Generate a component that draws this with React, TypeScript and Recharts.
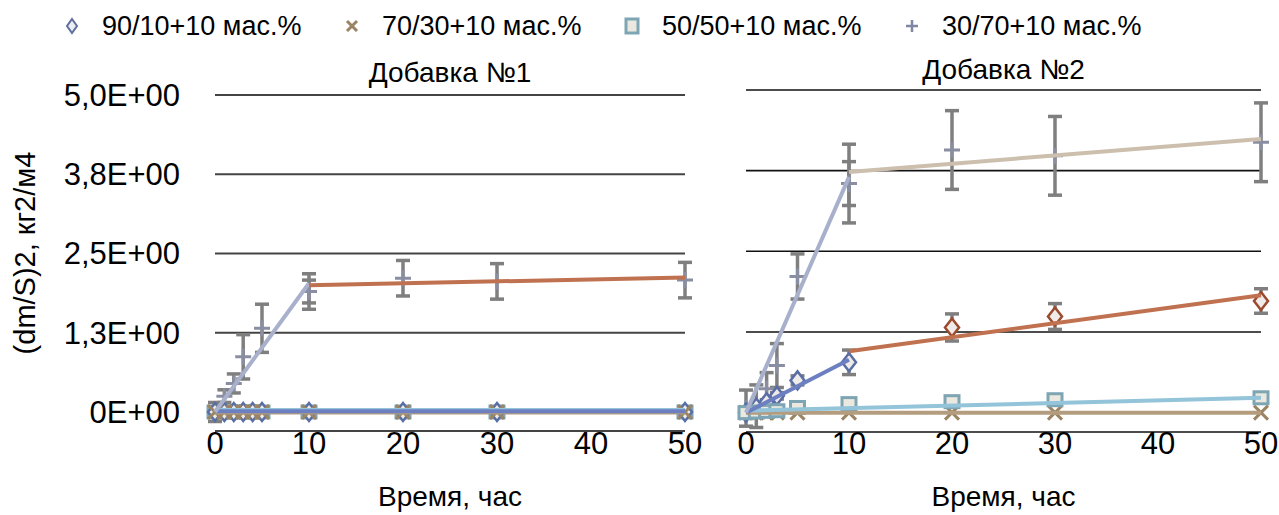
import React from 'react';
import { ComposedChart, Scatter, XAxis, YAxis, CartesianGrid, ErrorBar } from 'recharts';

const FONT = '"Liberation Sans", Arial, Helvetica, sans-serif';

const seriesNames = ['90/10+10 мас.%', '70/30+10 мас.%', '50/50+10 мас.%', '30/70+10 мас.%'];
const panelTitles = ['Добавка №1', 'Добавка №2'];
const yAxisTitle = '(dm/S)2, кг2/м4';
const xAxisTitle = 'Время, час';
const xTicks = [0, 10, 20, 30, 40, 50];
const yTicks = [0, 1.25, 2.5, 3.75, 5];
const yTickLabels = ['0E+00', '1,3E+00', '2,5E+00', '3,8E+00', '5,0E+00'];
// lower bound leaves room for error bars below zero
const yDomain = [-0.3, 5];

// Добавка №1 – measured points
const hours1 = [0, 1, 2, 3, 4, 5, 10, 20, 30, 50];
const a1_9010 = [0, 0, 0, 0, 0, 0, 0, 0, 0, 0];
const a1_7030 = [0, 0, 0, 0, 0, 0, 0, 0, 0, 0];
const a1_5050 = [0, 0, 0, 0, 0, 0, 0, 0, 0, 0];
const hours1_3070 = [0, 1, 2, 3, 5, 10, 10, 20, 30, 50];
const a1_3070 = [0, 0.25, 0.45, 0.87, 1.32, 1.9, 1.9, 2.11, 2.06, 2.08];
const e1_3070 = [0.15, 0.1, 0.15, 0.35, 0.38, 0.28, 0.18, 0.28, 0.28, 0.28];

// Добавка №1 – trend segments
const seg1 = [0, 10];
const seg2 = [10, 50];
const full = [0, 50];
const t1_3070a = [0, 2.03];
const t1_3070b = [2.0, 2.12];
const t1_9010 = [0.01, 0.01];
const t1_7030 = [-0.01, -0.01];
const t1_5050 = [0.03, 0.03];

// Добавка №2 – measured points
const hours2 = [0, 1, 2, 3, 5, 10, 20, 30, 50];
const b2_9010 = [0, 0.08, 0.16, 0.26, 0.5, 0.78, 1.32, 1.49, 1.73];
const e2_9010 = [0.03, 0.03, 0.04, 0.05, 0.07, 0.19, 0.21, 0.2, 0.19];
const b2_7030 = [0, 0, 0, 0, 0, 0, 0, 0, 0];
const b2_5050 = [0, 0.01, 0.02, 0.03, 0.08, 0.14, 0.17, 0.2, 0.23];
const e2_5050 = [0.02, 0.02, 0.02, 0.02, 0.03, 0.03, 0.03, 0.03, 0.03];
const hours2_3070 = [0, 1, 2, 3, 5, 10, 10, 20, 30, 50];
const b2_3070 = [0.07, 0.1, 0.37, 0.73, 2.11, 3.55, 3.55, 4.07, 3.98, 4.19];
const e2_3070 = [0.28, 0.33, 0.25, 0.34, 0.35, 0.61, 0.34, 0.61, 0.61, 0.61];

// Добавка №2 – trend segments
const t2_9010a = [0, 0.82];
const t2_9010b = [0.95, 1.82];
const t2_5050 = [0.03, 0.23];
const t2_7030 = [0, 0];
const t2_3070a = [0, 3.65];
const t2_3070b = [3.73, 4.24];

type Pt = { x: number; y: number; e: number };
const zip = (xs: number[], ys: number[], es?: number[]): Pt[] =>
  xs.map((x, i) => ({ x, y: ys[i], e: es ? es[i] : 0 }));

const ERR = '#7f7f7f';
const BLUE_MK = '#5a6ea6';
const BROWN_MK = '#9b4a2d';

const diamond = (cx: number, cy: number, c: string) => (
  <path d={`M${cx},${cy - 9}L${cx + 7},${cy}L${cx},${cy + 9}L${cx - 7},${cy}Z`} fill="#efebe8" stroke={c} strokeWidth={2.5} />
);
const diamondBlue = (p: any) => diamond(p.cx, p.cy, BLUE_MK);
const diamondSplit = (p: any) => diamond(p.cx, p.cy, p.payload && p.payload.x > 10 ? BROWN_MK : BLUE_MK);
const crossShape = (p: any) => {
  const { cx, cy } = p;
  return (
    <path d={`M${cx - 7},${cy - 7}L${cx + 7},${cy + 7}M${cx + 7},${cy - 7}L${cx - 7},${cy + 7}`} stroke="#9b8462" strokeWidth={3} fill="none" />
  );
};
const squareShape = (p: any) => {
  const { cx, cy } = p;
  return <rect x={cx - 7} y={cy - 6} width={14} height={12} fill="#ebe9df" stroke="#7ea5b3" strokeWidth={3} />;
};
const plusShape = (p: any) => {
  const { cx, cy } = p;
  return (
    <path d={`M${cx - 8},${cy}L${cx + 8},${cy}M${cx},${cy - 8}L${cx},${cy + 8}`} stroke="#8a8ea2" strokeWidth={3} fill="none" />
  );
};
const noShape = () => <g />;

const trend = (key: string, xs: number[], ys: number[], color: string) => (
  <Scatter
    key={key}
    data={zip(xs, ys)}
    line={{ stroke: color, strokeWidth: 4 }}
    lineType="joint"
    shape={noShape}
    isAnimationActive={false}
  />
);

const marks = (key: string, data: Pt[], shape: any, withErr: boolean) => (
  <Scatter key={key} data={data} shape={shape} isAnimationActive={false}>
    {withErr ? <ErrorBar dataKey="e" direction="y" width={7} stroke={ERR} strokeWidth={3.5} /> : null}
  </Scatter>
);

const tickStyle = { fontSize: 31, fill: '#000', fontFamily: FONT };

const LegendMark = ({ i }: { i: number }) => {
  const s = 24;
  const c = s / 2;
  return (
    <svg width={s} height={s} style={{ position: 'absolute', left: 0, top: 0 }}>
      {i === 0 && <path d={`M${c},${c - 7}L${c + 5},${c}L${c},${c + 7}L${c - 5},${c}Z`} fill="#eceef4" stroke="#5f6e9e" strokeWidth={2} />}
      {i === 1 && <path d={`M${c - 5},${c - 5}L${c + 5},${c + 5}M${c + 5},${c - 5}L${c - 5},${c + 5}`} stroke="#9b8462" strokeWidth={3} />}
      {i === 2 && <rect x={c - 6} y={c - 7} width={12} height={14} fill="#ebe9df" stroke="#7ea5b3" strokeWidth={3} />}
      {i === 3 && <path d={`M${c - 6},${c}L${c + 6},${c}M${c},${c - 6}L${c},${c + 6}`} stroke="#7f87a4" strokeWidth={2.5} />}
    </svg>
  );
};

const titleStyle = { position: 'absolute' as const, textAlign: 'center' as const, fontSize: 28, lineHeight: '34px', whiteSpace: 'nowrap' as const };

const App = () => {
  return (
    <div style={{ position: 'absolute', left: 0, top: 0, width: 1279, height: 515, background: '#fff', overflow: 'hidden', fontFamily: FONT }}>
      {/* legend */}
      {seriesNames.map((n, i) => (
        <div key={n} style={{ position: 'absolute', left: 60 + i * 280, top: 14, height: 24, width: 270 }}>
          <LegendMark i={i} />
          <span style={{ position: 'absolute', left: 42, top: -4, fontSize: 27, lineHeight: '32px', whiteSpace: 'nowrap', color: '#000' }}>{n}</span>
        </div>
      ))}

      {/* panel titles */}
      <div style={{ ...titleStyle, left: 215, width: 470, top: 56 }}>{panelTitles[0]}</div>
      <div style={{ ...titleStyle, left: 746, width: 515, top: 53 }}>{panelTitles[1]}</div>

      {/* y axis title */}
      <div style={{ position: 'absolute', left: 25, top: 253, transform: 'translate(-50%, -50%) rotate(-90deg)', fontSize: 29, lineHeight: '34px', whiteSpace: 'nowrap' }}>{yAxisTitle}</div>

      {/* x axis titles */}
      <div style={{ ...titleStyle, left: 215, width: 470, top: 480 }}>{xAxisTitle}</div>
      <div style={{ ...titleStyle, left: 746, width: 515, top: 480 }}>{xAxisTitle}</div>

      {/* Добавка №1 */}
      <div style={{ position: 'absolute', left: 0, top: 0 }}>
        <ComposedChart width={730} height={515} margin={{ top: 95, right: 45, bottom: 24, left: 0 }}>
          <CartesianGrid vertical={false} stroke="#444" strokeWidth={2} />
          <XAxis type="number" dataKey="x" domain={[0, 50]} ticks={xTicks} interval={0} height={60} axisLine={false} tickLine={false} tickSize={0} tickMargin={1} tick={tickStyle} />
          <YAxis type="number" dataKey="y" domain={yDomain} ticks={yTicks} interval={0} width={215} axisLine={false} tickLine={false} tickSize={0} tickMargin={35} tick={tickStyle}
            tickFormatter={(v: number) => yTickLabels[yTicks.indexOf(v)]} />
          {marks('m1-3070', zip(hours1_3070, a1_3070, e1_3070), plusShape, true)}
          {marks('m1-5050', zip(hours1, a1_5050), squareShape, false)}
          {marks('m1-9010', zip(hours1, a1_9010), diamondBlue, false)}
          {marks('m1-7030', zip(hours1, a1_7030), crossShape, false)}
          {trend('t1-5050', full, t1_5050, '#93c4d9')}
          {trend('t1-7030', full, t1_7030, '#b49c7e')}
          {trend('t1-9010', full, t1_9010, '#6c7fc0')}
          {trend('t1-3070a', seg1, t1_3070a, '#a8b0cc')}
          {trend('t1-3070b', seg2, t1_3070b, '#c0714f')}
        </ComposedChart>
      </div>

      {/* Добавка №2 */}
      <div style={{ position: 'absolute', left: 700, top: 0 }}>
        <ComposedChart width={579} height={515} margin={{ top: 90, right: 18, bottom: 23, left: 46 }}>
          <CartesianGrid vertical={false} stroke="#111" strokeWidth={1.6} />
          <XAxis type="number" dataKey="x" domain={[0, 50]} ticks={xTicks} interval={0} height={60} axisLine={false} tickLine={false} tickSize={0} tickMargin={0} tick={tickStyle} />
          <YAxis type="number" dataKey="y" domain={yDomain} ticks={yTicks} hide />
          {marks('m2-3070', zip(hours2_3070, b2_3070, e2_3070), plusShape, true)}
          {marks('m2-7030', zip(hours2, b2_7030), crossShape, false)}
          {marks('m2-9010', zip(hours2, b2_9010, e2_9010), diamondSplit, true)}
          {marks('m2-5050', zip(hours2, b2_5050, e2_5050), squareShape, true)}
          {trend('t2-7030', full, t2_7030, '#b49c7e')}
          {trend('t2-5050', full, t2_5050, '#93c4d9')}
          {trend('t2-9010a', seg1, t2_9010a, '#6c7fc0')}
          {trend('t2-9010b', seg2, t2_9010b, '#c0714f')}
          {trend('t2-3070a', seg1, t2_3070a, '#a8b0cc')}
          {trend('t2-3070b', seg2, t2_3070b, '#cdbfae')}
        </ComposedChart>
      </div>
    </div>
  );
};

export default App;
